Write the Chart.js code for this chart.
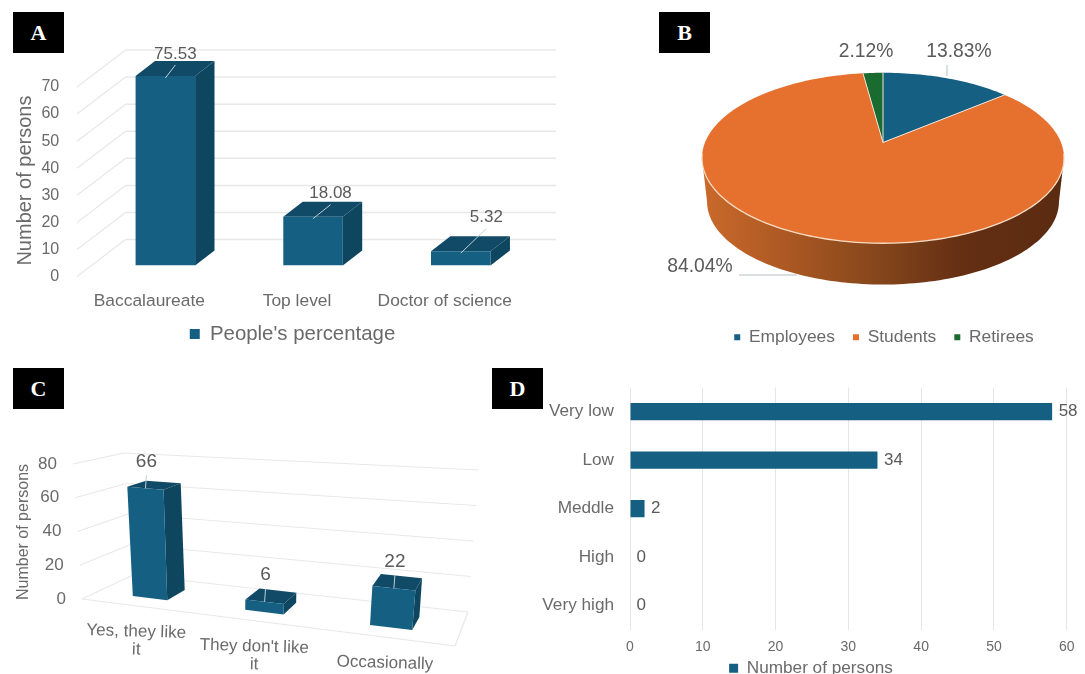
<!DOCTYPE html>
<html>
<head>
<meta charset="utf-8">
<title>Survey results</title>
<script src="https://cdn.jsdelivr.net/npm/chart.js@4"></script>
<style>
  html, body { margin: 0; padding: 0; background: #fff; overflow: hidden; }
  #stage { position: relative; width: 1085px; height: 674px; overflow: hidden; }
  canvas { position: absolute; left: 0; top: 0; }
  .tag {
    position: absolute; background: #000; color: #fff; width: 51px; height: 41px; line-height: 41px;
    text-align: center; font: bold 22px/41px "Liberation Serif", serif;
  }
</style>
</head>
<body>
<div id="stage">
  <canvas id="panelA" width="1085" height="674"></canvas>
  <canvas id="panelB" width="1085" height="674"></canvas>
  <canvas id="panelC" width="1085" height="674"></canvas>
  <canvas id="panelD" width="1085" height="690"></canvas>
  <div class="tag" style="left:13px;top:12px">A</div>
  <div class="tag" style="left:659px;top:12px">B</div>
  <div class="tag" style="left:13px;top:368px">C</div>
  <div class="tag" style="left:492px;top:368px">D</div>
</div>
<script>
// Panel A: education level
const educationLevels = ['Baccalaureate', 'Top level', 'Doctor of science'];
const educationShare = [75.53, 18.08, 5.32];
const educationSeries = "People's percentage";
const educationTicksMax = 70;

// Panel B: occupation
const occupationLabels = ['Employees', 'Students', 'Retirees'];
const occupationShare = [13.83, 84.04, 2.12];

// Panel C: attitude
const attitudeLabels = [['Yes, they like', 'it'], ["They don't like", 'it'], ['Occasionally']];
const attitudeCounts = [66, 6, 22];
const attitudeTicksMax = 80;

// Panel D: rating
const ratingLabels = ['Very low', 'Low', 'Meddle', 'High', 'Very high'];
const ratingCounts = [58, 34, 2, 0, 0];
const ratingSeries = 'Number of persons';
const ratingTicksMax = 60;

const yAxisTitle = 'Number of persons';

const BLUE = '#156082', BLUE_SIDE = '#0e4660', BLUE_TOP = '#104a66';
const ORANGE = '#e6702e', GREEN = '#1a6b30';
const TEXT = '#6a6a6a', VALUE_TEXT = '#5a5a5a', GRID = '#e8e8e8', LEADER = '#bfced6';

Chart.defaults.font.family = '"Liberation Sans", Arial, sans-serif';
Chart.defaults.color = TEXT;
Chart.defaults.animation = false;
Chart.defaults.plugins.tooltip.enabled = false;

const font = px => `${px}px "Liberation Sans", Arial, sans-serif`;
const fixedWidth = w => scale => { scale.width = w; };
const fixedHeight = h => scale => { scale.height = h; };

function polygon(ctx, pts, fill) {
  ctx.beginPath();
  pts.forEach((p, i) => i ? ctx.lineTo(p.x, p.y) : ctx.moveTo(p.x, p.y));
  ctx.closePath();
  ctx.fillStyle = fill;
  ctx.fill();
}
function segment(ctx, a, b, color, width) {
  ctx.beginPath();
  ctx.moveTo(a.x, a.y);
  ctx.lineTo(b.x, b.y);
  ctx.strokeStyle = color;
  ctx.lineWidth = width;
  ctx.stroke();
}
function label(ctx, text, x, y, px, color, align = 'center') {
  ctx.font = font(px);
  ctx.fillStyle = color;
  ctx.textAlign = align;
  ctx.textBaseline = 'middle';
  ctx.fillText(text, x, y);
}

// Places the library's legend around a given centre once layout has finished.
const legendPin = {
  id: 'legendPin',
  beforeDraw(chart, args, opts) {
    const lg = chart.legend;
    if (!lg || opts.cx === undefined) return;
    const pad = lg.options.labels.padding;
    const lh = lg.options.labels.font.size * 1.2;
    const w = lg.width, h = lg.height;
    lg.left = opts.cx - w / 2; lg.right = lg.left + w;
    lg.top = opts.cy - pad - lh / 2; lg.bottom = lg.top + h;
  }
};

// ---- Panel A: oblique box bars ----
const A_DEPTH = { x: 19.4, y: 15 };
const A_WALL = { frontDx: -14.5, frontDy: 11, backDx: 34.1, backDy: -26, right: 556 };
const A_LABEL_OFFSETS = [[10, -22], [17.5, -23], [25.6, -33.7]];

const obliqueBars = {
  id: 'obliqueBars',
  beforeDatasetsDraw(chart) {
    const { ctx, chartArea: area, scales: { y } } = chart;
    y.ticks.forEach(t => {
      const py = y.getPixelForValue(t.value);
      const front = { x: area.left + A_WALL.frontDx, y: py + A_WALL.frontDy };
      const back = { x: area.left + A_WALL.backDx, y: py + A_WALL.backDy };
      segment(ctx, front, back, GRID, 1.3);
      segment(ctx, back, { x: A_WALL.right, y: back.y }, GRID, 1.5);
    });
    chart.getDatasetMeta(0).data.forEach(bar => {
      const top = Math.max(bar.y, area.top), l = bar.x - bar.width / 2, r = bar.x + bar.width / 2;
      const { x: dx, y: dy } = A_DEPTH;
      polygon(ctx, [{ x: r, y: top }, { x: r + dx, y: top - dy }, { x: r + dx, y: bar.base - dy }, { x: r, y: bar.base }], BLUE_SIDE);
      polygon(ctx, [{ x: l, y: top }, { x: l + dx, y: top - dy }, { x: r + dx, y: top - dy }, { x: r, y: top }], BLUE_TOP);
    });
  },
  afterDatasetsDraw(chart) {
    const { ctx, chartArea: area } = chart;
    chart.getDatasetMeta(0).data.forEach((bar, i) => {
      const top = Math.max(bar.y, area.top);
      const [ox, oy] = A_LABEL_OFFSETS[i];
      segment(ctx, { x: bar.x, y: top + 2 }, { x: bar.x + ox, y: top + oy + 11 }, LEADER, 1);
      label(ctx, String(chart.data.datasets[0].data[i]), bar.x + ox, top + oy, 17, VALUE_TEXT);
    });
  }
};

new Chart(document.getElementById('panelA'), {
  type: 'bar',
  data: {
    labels: educationLevels,
    datasets: [{ label: educationSeries, data: educationShare, backgroundColor: BLUE, barPercentage: 0.403, categoryPercentage: 1 }]
  },
  plugins: [legendPin, obliqueBars],
  options: {
    responsive: false,
    layout: { padding: { left: 0, top: 76, right: 1085 - 534.6, bottom: 316 } },
    plugins: {
      legend: { position: 'bottom', labels: { boxWidth: 10, boxHeight: 10, padding: 2, color: TEXT, font: { size: 20.4 } } },
      legendPin: { cx: 292.5, cy: 336 }
    },
    scales: {
      x: {
        afterFit: fixedHeight(60),
        border: { display: false },
        grid: { display: false },
        ticks: { padding: 17, labelOffset: -16, font: { size: 17.4 }, color: TEXT, maxRotation: 0, autoSkip: false }
      },
      y: {
        min: 0, max: educationTicksMax,
        afterFit: fixedWidth(91.5),
        border: { display: false },
        grid: { display: false, drawTicks: false },
        ticks: { stepSize: 10, padding: 32.3, labelOffset: 11, font: { size: 16 }, color: TEXT },
        title: { display: true, text: yAxisTitle, align: 'start', color: TEXT, font: { size: 20 }, padding: { top: 13.6, bottom: 0 } }
      }
    }
  }
});

// ---- Panel B: tilted pie with a projected disc ----
const PIE_TILT = 0.182, PIE_SQUASH = 0.463;
const PIE_WALL = { drop: 44.1, shrink: 0.972 };
const PIE_LABELS = [
  { x: 959, y: 52, leader: [{ x: 947, y: 65 }, { x: 947, y: 76 }] },
  { x: 700, y: 267, leader: [{ x: 739, y: 275 }, { x: 797, y: 275 }] },
  { x: 866, y: 52 }
];

function rimPoint(el, theta, shrink = 1, drop = 0) {
  const u = Math.cos(theta), v = -Math.sin(theta), den = 1 + PIE_TILT * v;
  return {
    x: el.x + el.outerRadius * shrink * u / den,
    y: el.y + drop - el.outerRadius * shrink * PIE_SQUASH * v / den
  };
}
function rimPath(el, from, to, shrink, drop) {
  const n = Math.max(4, Math.ceil(Math.abs(to - from) * 40)), out = [];
  for (let i = 0; i <= n; i++) out.push(rimPoint(el, from + (to - from) * i / n, shrink, drop));
  return out;
}

const tiltedPie = {
  id: 'tiltedPie',
  beforeDatasetDraw(chart, args) {
    const { ctx } = chart;
    const arcs = args.meta.data;
    const ref = arcs[0];
    const lo = Math.asin(PIE_TILT), hi = Math.PI - lo;

    const wall = rimPath(ref, lo, hi, 1, 0).concat(rimPath(ref, hi, lo, PIE_WALL.shrink, PIE_WALL.drop));
    const g = ctx.createLinearGradient(ref.x - ref.outerRadius, 0, ref.x + ref.outerRadius, 0);
    g.addColorStop(0, '#c9692b');
    g.addColorStop(0.22, '#ad5923');
    g.addColorStop(0.5, '#83451b');
    g.addColorStop(0.72, '#642f13');
    g.addColorStop(1, '#5b2b11');
    polygon(ctx, wall, g);

    arcs.forEach(arc => {
      const edge = rimPath(arc, arc.startAngle, arc.endAngle, 1, 0);
      polygon(ctx, [{ x: arc.x, y: arc.y }].concat(edge), arc.options.backgroundColor);
    });
    arcs.forEach(arc => {
      segment(ctx, { x: arc.x, y: arc.y }, rimPoint(arc, arc.startAngle), '#f0e4d8', 1);
    });
    ctx.beginPath();
    rimPath(ref, lo - 0.05, hi + 0.05, 1, 0).forEach((p, i) => i ? ctx.lineTo(p.x, p.y) : ctx.moveTo(p.x, p.y));
    ctx.strokeStyle = '#f6dcc4';
    ctx.lineWidth = 1.3;
    ctx.stroke();
    return false;
  },
  afterDatasetsDraw(chart) {
    const { ctx } = chart;
    chart.data.datasets[0].data.forEach((value, i) => {
      const spot = PIE_LABELS[i];
      if (spot.leader) segment(ctx, spot.leader[0], spot.leader[1], '#b9bfc2', 1);
      label(ctx, value.toFixed(2) + '%', spot.x, spot.y, 19.3, VALUE_TEXT);
    });
  }
};

new Chart(document.getElementById('panelB'), {
  type: 'pie',
  data: {
    labels: occupationLabels,
    datasets: [{ data: occupationShare, backgroundColor: [BLUE, ORANGE, GREEN], borderWidth: 0, radius: 178, clip: false }]
  },
  plugins: [legendPin, tiltedPie],
  options: {
    responsive: false,
    layout: { padding: { left: 681, top: 0, right: 0, bottom: 343.6 } },
    plugins: {
      legend: { position: 'bottom', labels: { boxWidth: 6, boxHeight: 6, padding: 18, color: TEXT, font: { size: 17.4 } } },
      legendPin: { cx: 884, cy: 339 }
    }
  }
});

// ---- Panel C: bars standing in a perspective box ----
// Floor corners and the height vector at each corner, front-left to back-right.
const C_FLOOR = { fl: [82, 599], fr: [455, 646], bl: [133, 575], br: [468, 612] };
const C_UP = { fl: [-9, -135], fr: [16, -147], bl: [-9, -122], br: [11, -142] };
const C_BAR_DEPTH = [0.3, 0.7];

function bilinear(c, s, d) {
  const mix = k => (1 - s) * (1 - d) * c.fl[k] + s * (1 - d) * c.fr[k] + (1 - s) * d * c.bl[k] + s * d * c.br[k];
  return [mix(0), mix(1)];
}
function place(s, d, value) {
  const [x, y] = bilinear(C_FLOOR, s, d), [ux, uy] = bilinear(C_UP, s, d);
  const k = value / attitudeTicksMax;
  return { x: x + ux * k, y: y + uy * k };
}
const foreshorten = t => t - 0.153 * t * (1 - t);

const perspectiveBars = {
  id: 'perspectiveBars',
  beforeDatasetDraw(chart, args) {
    const { ctx, chartArea: area, scales: { y } } = chart;
    y.ticks.forEach(t => {
      const a = place(0, 0, t.value), b = place(0, 1, t.value), c = place(1, 1, t.value);
      segment(ctx, a, b, GRID, 1.2);
      segment(ctx, b, c, GRID, 1.2);
      label(ctx, String(t.value), a.x - 16, a.y, 17, TEXT, 'right');
    });
    segment(ctx, place(0, 0, 0), place(1, 0, 0), GRID, 1.2);
    segment(ctx, place(1, 0, 0), place(1, 1, 0), GRID, 1.2);

    args.meta.data.forEach((bar, i) => {
      const value = y.getValueForPixel(bar.y);
      const t0 = (bar.x - bar.width / 2 - area.left) / area.width;
      const t1 = (bar.x + bar.width / 2 - area.left) / area.width;
      const s0 = foreshorten(t0), s1 = foreshorten(t1);
      const [d0, d1] = C_BAR_DEPTH;
      polygon(ctx, [place(s1, d0, 0), place(s1, d1, 0), place(s1, d1, value), place(s1, d0, value)], BLUE_SIDE);
      polygon(ctx, [place(s0, d0, value), place(s0, d1, value), place(s1, d1, value), place(s1, d0, value)], BLUE_TOP);
      polygon(ctx, [place(s0, d0, 0), place(s1, d0, 0), place(s1, d0, value), place(s0, d0, value)], BLUE);

      const mid = place((s0 + s1) / 2, d0, value);
      segment(ctx, { x: mid.x, y: mid.y }, { x: mid.x + 1, y: mid.y - 13 }, LEADER, 1);
      label(ctx, String(chart.data.datasets[0].data[i]), mid.x + 1, mid.y - 27, 19, VALUE_TEXT);
    });

    chart.data.labels.forEach((lines, i) => {
      const t = (chart.scales.x.getPixelForTick(i) - area.left) / area.width;
      const foot = place(foreshorten(t), 0, 0);
      lines.forEach((line, j) => {
        ctx.save();
        ctx.translate(foot.x, foot.y + 26 + j * 18);
        ctx.rotate(0.03);
        label(ctx, line, 0, 0, 17, TEXT);
        ctx.restore();
      });
    });
    return false;
  }
};

new Chart(document.getElementById('panelC'), {
  type: 'bar',
  data: {
    labels: attitudeLabels,
    datasets: [{ label: yAxisTitle, data: attitudeCounts, backgroundColor: BLUE, barPercentage: 0.318, categoryPercentage: 1 }]
  },
  plugins: [perspectiveBars],
  options: {
    responsive: false,
    layout: { padding: { left: 0, top: 464, right: 1085 - 455, bottom: 64 } },
    plugins: { legend: { display: false } },
    scales: {
      x: {
        afterFit: fixedHeight(10),
        border: { display: false },
        grid: { display: false },
        ticks: { display: false }
      },
      y: {
        min: 0, max: attitudeTicksMax,
        afterFit: fixedWidth(82),
        border: { display: false },
        grid: { display: false, drawTicks: false },
        ticks: { display: false, stepSize: 20 },
        title: { display: true, text: yAxisTitle, color: TEXT, font: { size: 16 }, padding: { top: 13.7, bottom: 0 } }
      }
    }
  }
});

// ---- Panel D: flat horizontal bars ----
const ratingValueLabels = {
  id: 'ratingValueLabels',
  afterDatasetsDraw(chart) {
    const { ctx } = chart;
    chart.getDatasetMeta(0).data.forEach((bar, i) => {
      label(ctx, String(chart.data.datasets[0].data[i]), bar.x + 6.5, bar.y, 17, VALUE_TEXT, 'left');
    });
  }
};

new Chart(document.getElementById('panelD'), {
  type: 'bar',
  data: {
    labels: ratingLabels,
    datasets: [{ label: ratingSeries, data: ratingCounts, backgroundColor: BLUE, barPercentage: 0.356, categoryPercentage: 1 }]
  },
  plugins: [legendPin, ratingValueLabels],
  options: {
    indexAxis: 'y',
    responsive: false,
    layout: { padding: { left: 0, top: 387.5, right: 1085 - 1066.7, bottom: 9.2 } },
    plugins: {
      legend: { position: 'bottom', labels: { boxWidth: 9, boxHeight: 9, padding: 0, color: TEXT, font: { size: 17.2 } } },
      legendPin: { cx: 811, cy: 670 }
    },
    scales: {
      x: {
        min: 0, max: ratingTicksMax,
        afterFit: fixedHeight(24),
        border: { display: false },
        grid: { color: '#e6e6e6', drawTicks: false },
        ticks: { stepSize: 10, padding: 9, font: { size: 14 }, color: TEXT, maxRotation: 0 }
      },
      y: {
        afterFit: fixedWidth(630),
        border: { display: false },
        grid: { display: false, drawTicks: false },
        ticks: { padding: 16, font: { size: 17.2 }, color: TEXT, autoSkip: false }
      }
    }
  }
});
</script>
</body>
</html>
